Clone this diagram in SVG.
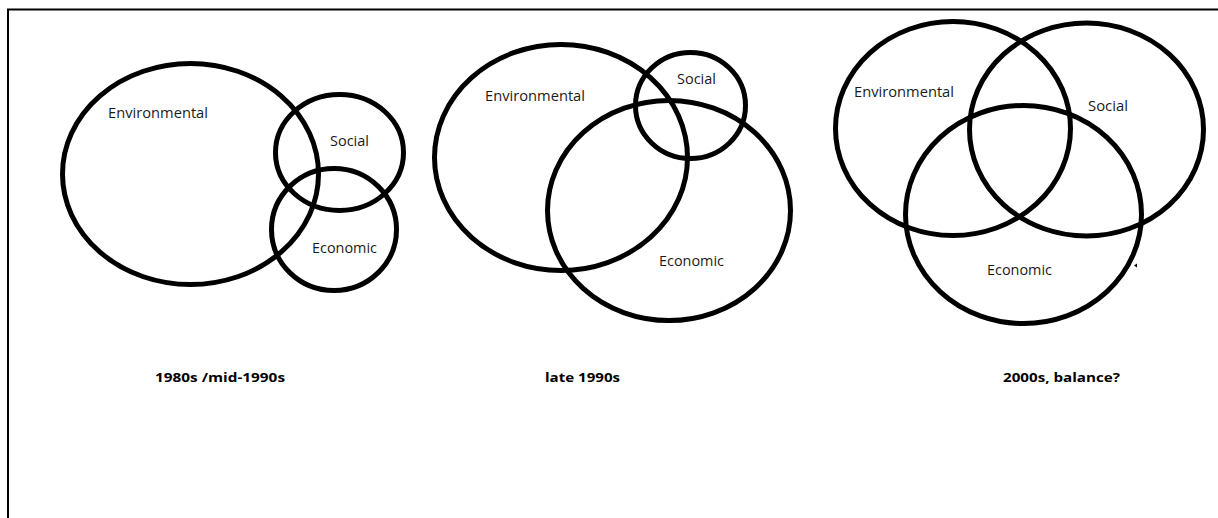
<svg xmlns="http://www.w3.org/2000/svg" width="1218" height="518" viewBox="0 0 1218 518">
<style>
.c{fill:none;stroke:#000;stroke-width:5}
.t{font-family:'Open Sans','Liberation Sans',sans-serif;font-size:14px;fill:#1a1a1a}
.b{font-family:'Open Sans','Liberation Sans',sans-serif;font-size:13px;font-weight:bold;fill:#000}
</style>
<rect width="1218" height="518" fill="#fff"/>
<path d="M8,518 V9.5 H1218" fill="none" stroke="#000" stroke-width="2"/>
<g id="p1-environmental"><ellipse class="c" cx="190.5" cy="174" rx="128" ry="110.5"/><text class="t" x="108" y="117.5" textLength="100" lengthAdjust="spacingAndGlyphs">Environmental</text></g>
<g id="p1-social"><ellipse class="c" cx="339.5" cy="152.5" rx="64" ry="58"/><text class="t" x="330" y="146" textLength="39" lengthAdjust="spacingAndGlyphs">Social</text></g>
<g id="p1-economic"><ellipse class="c" cx="334" cy="229.5" rx="62.5" ry="61"/><text class="t" x="312" y="253" textLength="65" lengthAdjust="spacingAndGlyphs">Economic</text></g>
<g id="p1-label"><text class="b" x="155" y="382" textLength="130" lengthAdjust="spacingAndGlyphs">1980s /mid-1990s</text></g>
<g id="p2-environmental"><ellipse class="c" cx="561" cy="157.5" rx="126.5" ry="113"/><text class="t" x="485" y="101" textLength="100" lengthAdjust="spacingAndGlyphs">Environmental</text></g>
<g id="p2-social"><ellipse class="c" cx="690.5" cy="105.5" rx="55" ry="53"/><text class="t" x="677" y="84" textLength="39" lengthAdjust="spacingAndGlyphs">Social</text></g>
<g id="p2-economic"><ellipse class="c" cx="669" cy="210.5" rx="121.5" ry="110"/><text class="t" x="659" y="266" textLength="65" lengthAdjust="spacingAndGlyphs">Economic</text></g>
<g id="p2-label"><text class="b" x="545" y="382" textLength="75" lengthAdjust="spacingAndGlyphs">late 1990s</text></g>
<g id="p3-environmental"><ellipse class="c" cx="953" cy="128.5" rx="117.5" ry="107"/><text class="t" x="854" y="97" textLength="100" lengthAdjust="spacingAndGlyphs">Environmental</text></g>
<g id="p3-social"><ellipse class="c" cx="1086.5" cy="129.5" rx="117" ry="106.5"/><text class="t" x="1088" y="111" textLength="40" lengthAdjust="spacingAndGlyphs">Social</text></g>
<g id="p3-economic"><ellipse class="c" cx="1023.5" cy="214.5" rx="118" ry="109"/><text class="t" x="987" y="275" textLength="65" lengthAdjust="spacingAndGlyphs">Economic</text></g>
<g id="p3-label"><text class="b" x="1003" y="382" textLength="117" lengthAdjust="spacingAndGlyphs">2000s, balance?</text></g>
<polygon points="1134,265.5 1137,263.5 1137,267.5" fill="#000"/>
</svg>
